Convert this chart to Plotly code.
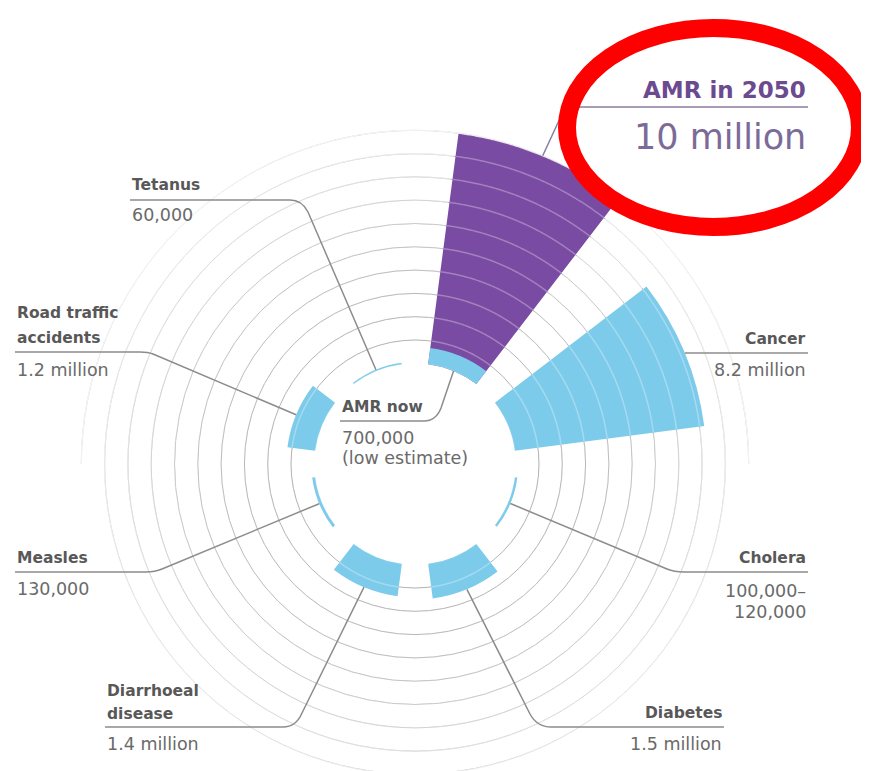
import numpy as np
import plotly.graph_objects as go

# ---------------- data ----------------
categories = ["AMR now", "Cancer", "Cholera", "Diabetes", "Diarrhoeal disease",
              "Measles", "Road traffic accidents", "Tetanus"]
deaths_millions = [0.7, 8.2, 0.11, 1.5, 1.4, 0.13, 1.2, 0.06]
amr_2050_millions = 10.0
label_lines = [["AMR now"], ["Cancer"], ["Cholera"], ["Diabetes"], ["Diarrhoeal", "disease"],
               ["Measles"], ["Road traffic", "accidents"], ["Tetanus"]]
value_lines = [["700,000", "(low estimate)"], ["8.2 million"], ["100,000–", "120,000"],
               ["1.5 million"], ["1.4 million"], ["130,000"], ["1.2 million"], ["60,000"]]
amr_2050_label = "AMR in 2050"
amr_2050_value = "10 million"
ring_values = list(range(0, 11))

# ---------------- geometry / style ----------------
W, HT = 869, 771
OFF = 8.0              # page offset of the figure inside the browser window
CX, CY = 415.0, 464.0  # window coordinates of the chart centre
HOLE_PX = 100.0
PX_PER_M = 23.3
R0 = -0.03
FONT = "DejaVu Sans"
BLUE = "#7dcbea"
PURPLE = "#7a4ba2"
GRID = "rgb(168,168,168)"
LEADER = "#8c8c8c"
NAME_C = "#585858"
VAL_C = "#6a6a6a"

slot = 360.0 / len(categories)
theta = [slot * (i + 0.5) for i in range(len(categories))]
bar_w = slot * 2.0 / 3.0
is_top = [np.cos(np.deg2rad(t)) > 0 for t in theta]


def rpx(r):
    return HOLE_PX + (r - R0) * PX_PER_M


def polar_px(t, r):
    a = np.deg2rad(t)
    rp = rpx(r)
    return CX + rp * np.sin(a), CY - rp * np.cos(a)


def fx(x):
    return (x - OFF) / W


def fy(y):
    return 1 - (y - OFF) / HT


def P(x, y):
    return f"{fx(x):.5f},{fy(y):.5f}"


CXf, CYf = CX - OFF, CY - OFF
top_max = 10.6
R_top = rpx(top_max)
R_bot = HT - CYf
bot_max = R0 + (R_bot - HOLE_PX) / PX_PER_M

fig = go.Figure()

# AMR 2050 (purple) under AMR now (blue)
fig.add_trace(go.Barpolar(r=[amr_2050_millions], theta=[theta[0]], width=[bar_w],
                          marker=dict(color=PURPLE, line=dict(width=0)),
                          subplot="polar", hoverinfo="skip", showlegend=False))
for sub, flag in [("polar", True), ("polar2", False)]:
    idx = [i for i in range(len(categories)) if is_top[i] == flag]
    fig.add_trace(go.Barpolar(r=[deaths_millions[i] for i in idx],
                              theta=[theta[i] for i in idx],
                              width=[bar_w] * len(idx),
                              marker=dict(color=BLUE, line=dict(width=0)),
                              subplot=sub, hoverinfo="skip", showlegend=False))

# ring overlays: lighter lines where a ring crosses a bar, fading rings elsewhere
bar_theta = theta + [theta[0]]
bar_r = deaths_millions + [amr_2050_millions]


def covered(th, k):
    cov = np.zeros(th.size, dtype=bool)
    if k == 0:
        return cov
    for t, v in zip(bar_theta, bar_r):
        d = np.abs((th - t + 180.0) % 360.0 - 180.0)
        cov |= (d <= bar_w / 2.0) & (v > k)
    return cov


for sub, lo, hi, rmax in [("polar", -90, 90, top_max), ("polar2", 90, 270, bot_max)]:
    th = np.linspace(lo, hi, 721)
    for k in ring_values:
        if k > rmax:
            continue
        cov = covered(th, k)
        fade = 0.12 + 0.7 * (k / 10.0) ** 1.8
        for mask, alpha in [(~cov, fade), (cov, 0.3)]:
            if not mask.any():
                continue
            rr = [float(k) if m else None for m in mask]
            fig.add_trace(go.Scatterpolar(r=rr, theta=th, mode="lines", connectgaps=False,
                                          line=dict(color=f"rgba(255,255,255,{alpha:.3f})", width=1.5),
                                          subplot=sub, hoverinfo="skip", showlegend=False))


def polar_layout(rmax, R, sector, dom_x, dom_y):
    return dict(
        domain=dict(x=dom_x, y=dom_y),
        sector=sector,
        hole=HOLE_PX / R,
        bgcolor="rgba(0,0,0,0)",
        barmode="overlay",
        radialaxis=dict(range=[R0, rmax], tickvals=ring_values, showticklabels=False,
                        ticks="", showline=False, gridcolor=GRID, gridwidth=1.2),
        angularaxis=dict(rotation=90, direction="clockwise", showgrid=False,
                         showline=False, showticklabels=False, ticks=""),
    )


fig.update_layout(
    width=W, height=HT, margin=dict(l=0, r=0, t=0, b=0),
    paper_bgcolor="white", plot_bgcolor="white", showlegend=False,
    polar=polar_layout(top_max, R_top, [0, 180],
                       [(CXf - R_top) / W, (CXf + R_top) / W],
                       [(HT - CYf) / HT, (HT - CYf + R_top) / HT]),
    polar2=polar_layout(bot_max, R_bot, [180, 360],
                        [(CXf - R_bot) / W, (CXf + R_bot) / W],
                        [0, (HT - CYf) / HT]),
)


def add_text(x, y, text, side, size, color, bold=False):
    fig.add_annotation(x=fx(x), y=fy(y), xref="paper", yref="paper", text=text,
                       showarrow=False, xanchor=side, yanchor="middle",
                       font=dict(family=FONT, size=size, color=color,
                                 weight="bold" if bold else "normal"))


def add_path(start, cmds, color=LEADER, width=1.5):
    d = "M " + P(*start)
    for c in cmds:
        if c[0] == "L":
            d += " L " + P(c[1], c[2])
        else:
            d += " Q " + P(c[1], c[2]) + " " + P(c[3], c[4])
    fig.add_shape(type="path", path=d, xref="paper", yref="paper",
                  line=dict(color=color, width=width))


cancer_y = 353
labels = {
    0: dict(side="left", x=340, ny=[407], vy=[438, 458], r=0.0,
            way=[("L", 441, 408), ("Q", 436, 421, 424, 421), ("L", 340, 421)]),
    1: dict(side="right", x=808, ny=[339], vy=[370], r=None,
            way=[("L", 808, cancer_y)]),
    2: dict(side="right", x=808, ny=[558], vy=[591, 612], r=deaths_millions[2],
            way=[("L", 667, 569), ("Q", 674, 572, 684, 572), ("L", 808, 572)]),
    3: dict(side="right", x=724, ny=[713], vy=[744], r=deaths_millions[3],
            way=[("L", 530, 714), ("Q", 537, 727, 551, 727), ("L", 724, 727)]),
    4: dict(side="left", x=105, ny=[691, 714], vy=[744], r=deaths_millions[4],
            way=[("L", 302, 713), ("Q", 296, 727, 283, 727), ("L", 105, 727)]),
    5: dict(side="left", x=15, ny=[558], vy=[589], r=deaths_millions[5],
            way=[("L", 162, 569), ("Q", 155, 572, 146, 572), ("L", 15, 572)]),
    6: dict(side="left", x=15, ny=[313, 338], vy=[370], r=deaths_millions[6],
            way=[("L", 153, 354), ("Q", 148, 352, 140, 352), ("L", 15, 352)]),
    7: dict(side="left", x=130, ny=[185], vy=[215], r=deaths_millions[7],
            way=[("L", 308, 212), ("Q", 302, 200, 290, 200), ("L", 130, 200)]),
}

for i, spec in labels.items():
    if spec["r"] is None:
        rp = rpx(deaths_millions[i])
        start = (CX + np.sqrt(rp ** 2 - (CY - cancer_y) ** 2), cancer_y)
    else:
        start = polar_px(theta[i], spec["r"])
    add_path(start, spec["way"])
    for line, y in zip(label_lines[i], spec["ny"]):
        add_text(spec["x"], y, line, spec["side"], 15.5, NAME_C, bold=True)
    for line, y in zip(value_lines[i], spec["vy"]):
        add_text(spec["x"], y, line, spec["side"], 17.5, VAL_C)

# AMR in 2050 label
add_path(polar_px(theta[0], amr_2050_millions),
         [("L", 562, 114), ("Q", 566, 107, 574, 107), ("L", 808, 107)], color="#8a7d9e")
add_text(808, 90, amr_2050_label, "right", 23, "#6b4a8f", bold=True)
add_text(808, 137, amr_2050_value, "right", 35, "#7b6b98")

# red highlight ellipse
fig.add_shape(type="circle", xref="paper", yref="paper",
              x0=fx(567), x1=fx(860), y0=fy(227), y1=fy(28),
              line=dict(color="#ff0000", width=18))

fig.write_html("out.html")
